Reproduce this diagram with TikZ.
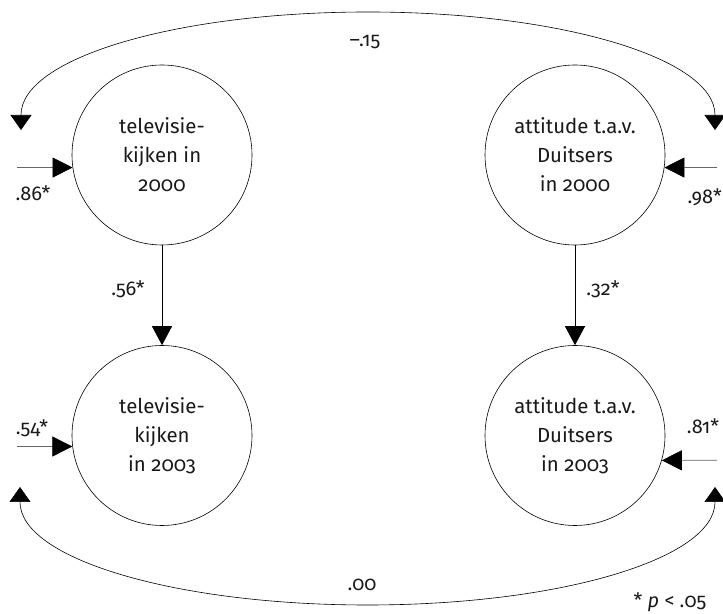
\documentclass[tikz,border=0pt]{standalone}
\usepackage{fontspec}
\setmainfont{Fira Sans}[Numbers=OldStyle]
\usetikzlibrary{arrows.meta}

\tikzset{
  latent/.style={circle, draw, line width=0.6bp, minimum size=180bp, inner sep=0pt,
    align=center, text=black!90, font=\fontsize{20.5}{29}\selectfont},
  effect/.style={line width=0.7bp, -{Triangle[length=19bp,width=20bp]}},
  resid/.style={line width=0.7bp, draw=black!60, -{Triangle[length=20bp,width=20bp,fill=black,color=black]}},
  corr/.style={line width=0.6bp, {Triangle[length=15bp,width=21bp]}-{Triangle[length=15bp,width=21bp]}},
  coef/.style={text=black!90, font=\fontsize{20}{22}\selectfont}
}

\begin{document}
\begin{tikzpicture}[x=1bp, y=1bp]
    \useasboundingbox (0,0) rectangle (723,614);

    % Latent variables
    \node[latent] (tv0) at (162,459) {televisie-\\kijken in\\2000};
    \node[latent] (at0) at (575,459) {attitude t.a.v.\\Duitsers\\in 2000};
    \node[latent] (tv3) at (162,178.5) {televisie-\\kijken\\in 2003};
    \node[latent] (at3) at (575,178.5) {attitude t.a.v.\\Duitsers\\in 2003};

    % Stability paths
    \draw[effect] (tv0.south) -- (tv3.north);
    \draw[effect] (at0.south) -- (at3.north);
    \node[coef] (b1) at (128,325) {.56*};
    \node[coef] (b2) at (603,325) {.32*};

    % Residuals
    \coordinate (r1) at (17,446.5);
    \coordinate (r2) at (717,446.5);
    \coordinate (r3) at (17,167.5);
    \coordinate (r4) at (717,153.7);
    \draw[resid] (r1) -- (tv0.188);
    \draw[resid] (r2) -- (at0.-8);
    \draw[resid] (r3) -- (tv3.187);
    \draw[resid] (r4) -- (at3.-16);
    \node[coef] (e1) at (33,421) {.86*};
    \node[coef, anchor=west] (e2) at (684,417) {.98*};
    \node[coef] (e3) at (32,186) {.54*};
    \node[coef] (e4) at (703,188) {.81*};

    % Correlations
    \coordinate (c1) at (21,484);
    \coordinate (c2) at (715,484);
    \draw[corr] (c1) -- ++(0,15) arc[start angle=180, end angle=0, x radius=347, y radius=103] -- (c2);
    \node[coef] (k1) at (365,572) {–.15};

    \coordinate (d1) at (20,127);
    \coordinate (d2) at (715,127);
    \draw[corr] (d1) -- ++(0,-15) arc[start angle=180, end angle=360, x radius=347.5, y radius=103] -- (d2);
    \node[coef] (k2) at (362,29) {.00};

    % Note
    \node[coef] (note) at (670,12) {* \textit{p} < .05};
\end{tikzpicture}
\end{document}
